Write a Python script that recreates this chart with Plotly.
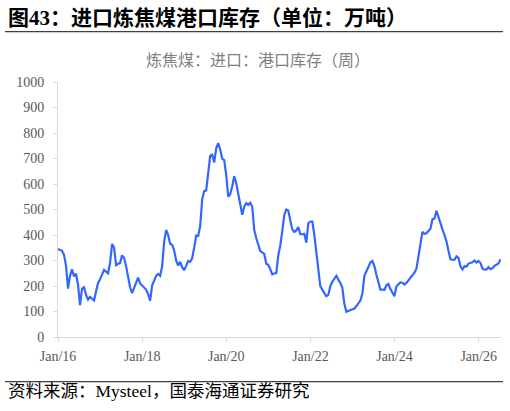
import pandas as pd
import plotly.graph_objects as go

# Weekly-ish samples (one value about every 2.5 weeks)
start_date = "2016-01-01"
end_date = "2026-07-10"
inventory = [
    345, 343, 338, 322, 280, 190, 240, 265, 238, 248, 205, 125, 190, 195, 165, 147,
    157, 150, 143, 178, 212, 226, 247, 263, 256, 250, 290, 365, 350, 282, 287, 290,
    320, 310, 278, 232, 195, 172, 195, 215, 233, 210, 202, 198, 186, 168, 142, 202,
    222, 240, 247, 240, 277, 372, 420, 400, 366, 362, 340, 300, 280, 295, 274, 262,
    279, 298, 295, 308, 350, 398, 396, 435, 540, 572, 575, 640, 710, 715, 684, 740,
    760, 735, 700, 694, 636, 550, 560, 590, 631, 604, 564, 531, 479, 511, 525, 518,
    527, 511, 420, 388, 362, 337, 332, 326, 287, 283, 266, 246, 249, 251, 320, 358,
    415, 478, 500, 496, 458, 422, 412, 418, 431, 403, 403, 405, 370, 446, 453, 453,
    401, 329, 257, 199, 186, 173, 160, 165, 200, 217, 228, 240, 225, 212, 193, 130,
    99, 103, 107, 109, 111, 120, 132, 143, 170, 240, 258, 270, 292, 298, 278, 244,
    215, 186, 186, 185, 203, 208, 188, 175, 160, 199, 208, 214, 213, 206, 212, 222,
    230, 243, 252, 268, 315, 365, 412, 405, 407, 416, 425, 462, 464, 495, 468, 447,
    422, 400, 375, 337, 305, 303, 303, 316, 310, 277, 265, 278, 276, 288, 290, 293,
    300, 292, 298, 290, 268, 264, 265, 274, 266, 270, 279, 285, 288, 305,
]
dates = pd.date_range(start_date, end_date, periods=len(inventory))

y_ticks = [0, 100, 200, 300, 400, 500, 600, 700, 800, 900, 1000]

title_text = "图43：进口炼焦煤港口库存（单位：万吨）"
subtitle_text = "炼焦煤：进口：港口库存（周）"
source_text = "资料来源：Mysteel，国泰海通证券研究"

SERIF = "Liberation Serif, Noto Sans CJK SC, serif"

fig = go.Figure()
fig.add_trace(go.Scatter(
    x=dates, y=inventory, mode="lines",
    line=dict(color="#3366ff", width=2.2),
    showlegend=False, hoverinfo="skip",
))

fig.update_layout(
    width=510, height=411,
    margin=dict(l=58, r=9, t=81.5, b=73.5),
    paper_bgcolor="white", plot_bgcolor="white",
    font=dict(family=SERIF, color="#595959", size=14),
    xaxis=dict(
        type="date",
        range=["2016-01-01", "2026-07-14"],
        tick0="2016-01-01", dtick="M24", tickformat="%b/%y",
        showgrid=False, zeroline=False,
        showline=True, linecolor="#d9d9d9", linewidth=1,
        ticks="outside", ticklen=4, tickcolor="#d9d9d9",
        ticklabelstandoff=2,
        tickfont=dict(family=SERIF, size=14, color="#595959"),
    ),
    yaxis=dict(
        range=[0, 1000], tickvals=y_ticks,
        showgrid=False, zeroline=False,
        showline=True, linecolor="#d9d9d9", linewidth=1,
        ticks="outside", ticklen=4, tickcolor="#d9d9d9",
        ticklabelstandoff=6,
        tickfont=dict(family=SERIF, size=14, color="#595959"),
    ),
)

PW = 510 - 58 - 9
PH = 411 - 81.5 - 73.5

def px(x):
    return (x - 58) / PW

def py(y):
    return (337.5 - y) / PH

fig.add_annotation(
    text=title_text, xref="paper", yref="paper", x=px(6), y=py(17),
    xanchor="left", yanchor="middle", showarrow=False,
    font=dict(family=SERIF, size=21, color="#000000", weight="bold"),
)
fig.add_annotation(
    text=subtitle_text, xref="paper", yref="paper", x=px(258), y=py(58),
    xanchor="center", yanchor="middle", showarrow=False,
    font=dict(family="Noto Sans CJK SC", size=16, color="#808080"),
)
fig.add_annotation(
    text=source_text, xref="paper", yref="paper", x=px(6), y=py(392),
    xanchor="left", yanchor="middle", showarrow=False,
    font=dict(family=SERIF, size=17.5, color="#000000"),
)
for yy in (31, 382.3):
    fig.add_shape(
        type="line", xref="paper", yref="paper",
        x0=px(5), x1=px(503), y0=py(yy), y1=py(yy),
        line=dict(color="#404040", width=1.2),
    )

fig.write_html(
    "out.html",
    config={"displayModeBar": False},
    post_script="document.body.style.margin='0';document.body.style.padding='0';",
)
